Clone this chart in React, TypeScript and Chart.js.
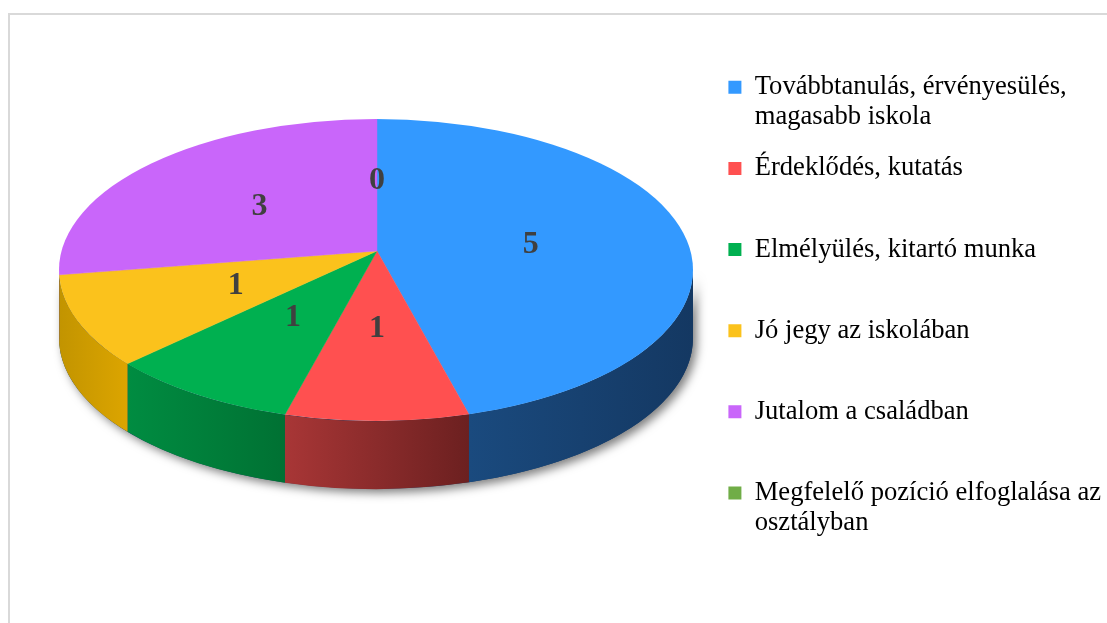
import React, { useEffect, useRef } from 'react';
import { Chart, registerables } from 'chart.js';

Chart.register(...registerables);

// ---------- data ----------
const categories: string[] = [
  'Továbbtanulás, érvényesülés, magasabb iskola',
  'Érdeklődés, kutatás',
  'Elmélyülés, kitartó munka',
  'Jó jegy az iskolában',
  'Jutalom a családban',
  'Megfelelő pozíció elfoglalása az osztályban',
];
const values: number[] = [5, 1, 1, 1, 3, 0];
const legendLines: string[][] = [
  ['Továbbtanulás, érvényesülés,', 'magasabb iskola'],
  ['Érdeklődés, kutatás', ''],
  ['Elmélyülés, kitartó munka', ''],
  ['Jó jegy az iskolában', ''],
  ['Jutalom a családban', ''],
  ['Megfelelő pozíció elfoglalása az', 'osztályban'],
];

// ---------- styles ----------
const topColors = ['#3399FF', '#FF5050', '#00B050', '#FBC21C', '#C966FA', '#70AD47'];
const sideColors: [string, string][] = [
  ['#1A4A7E', '#143862'],
  ['#A83636', '#6C2020'],
  ['#008C41', '#007133'],
  ['#C29400', '#DCA500'],
  ['#9C50C6', '#8A44B0'],
  ['#55883A', '#4A7832'],
];
const SERIF = '"Liberation Serif", "Times New Roman", serif';

// geometry of the drawn (tilted) pie in screen pixels
const OUT = { cx: 376, cy: 270, rx: 317, ry: 151 };
const APEX = { x: 377, y: 251 };
const ARC_R = { x: 345, y: 180 };
const DEPTH = 68;
const LABEL_F = 0.49;
const LABEL_DY = 4;

function thetaFor(a: number): number {
  const dx = ARC_R.x * Math.cos(a);
  const dy = ARC_R.y * Math.sin(a);
  const u0 = (APEX.x - OUT.cx) / OUT.rx;
  const v0 = (APEX.y - OUT.cy) / OUT.ry;
  const du = dx / OUT.rx;
  const dv = dy / OUT.ry;
  const A = du * du + dv * dv;
  const B = 2 * (u0 * du + v0 * dv);
  const C = u0 * u0 + v0 * v0 - 1;
  const t = (-B + Math.sqrt(B * B - 4 * A * C)) / (2 * A);
  return Math.atan2(v0 + t * dv, u0 + t * du);
}

const pie3d = {
  id: 'pie3d',
  beforeDraw(chart: any) {
    const ctx = chart.ctx;
    ctx.save();
    ctx.strokeStyle = '#D9D9D9';
    ctx.lineWidth = 2;
    ctx.beginPath();
    ctx.moveTo(9, chart.height + 5);
    ctx.lineTo(9, 14);
    ctx.lineTo(chart.width + 5, 14);
    ctx.stroke();
    ctx.restore();
  },
  beforeDatasetsDraw(chart: any) {
    const ctx = chart.ctx;
    const meta = chart.getDatasetMeta(0);
    const arcs = meta.data;
    ctx.save();
    if (arcs.length) {
      // shadow under the visible side
      ctx.save();
      ctx.shadowColor = 'rgba(0,0,0,0.5)';
      ctx.shadowBlur = 10;
      ctx.shadowOffsetX = 4;
      ctx.shadowOffsetY = 4;
      ctx.fillStyle = '#1A3F6A';
      ctx.beginPath();
      ctx.ellipse(OUT.cx, OUT.cy, OUT.rx, OUT.ry, 0, 0, Math.PI, false);
      ctx.ellipse(OUT.cx, OUT.cy + DEPTH, OUT.rx, OUT.ry, 0, Math.PI, 0, true);
      ctx.closePath();
      ctx.fill();
      ctx.restore();

      arcs.forEach((arc: any, i: number) => {
        const p = arc.getProps(['startAngle', 'endAngle'], true);
        if (p.endAngle - p.startAngle < 1e-6) return;
        let ts = thetaFor(p.startAngle);
        let te = thetaFor(p.endAngle);
        while (te <= ts) te += Math.PI * 2;
        const windows = [[0, Math.PI], [2 * Math.PI, 3 * Math.PI], [-2 * Math.PI, -Math.PI]];
        windows.forEach(([w0, w1]) => {
          const lo = Math.max(ts, w0);
          const hi = Math.min(te, w1);
          if (hi - lo <= 1e-4) return;
          const x0 = OUT.cx + OUT.rx * Math.cos(lo);
          const x1 = OUT.cx + OUT.rx * Math.cos(hi);
          const g = ctx.createLinearGradient(Math.min(x0, x1), 0, Math.max(x0, x1), 0);
          const cols = sideColors[i % sideColors.length];
          g.addColorStop(0, cols[0]);
          g.addColorStop(1, cols[1]);
          ctx.fillStyle = g;
          ctx.beginPath();
          ctx.ellipse(OUT.cx, OUT.cy, OUT.rx, OUT.ry, 0, lo, hi, false);
          ctx.ellipse(OUT.cx, OUT.cy + DEPTH, OUT.rx, OUT.ry, 0, hi, lo, true);
          ctx.closePath();
          ctx.fill();
        });
      });

      // transform for top faces
      const a0 = arcs[0].getProps(['x', 'y', 'outerRadius'], true);
      ctx.beginPath();
      ctx.ellipse(OUT.cx, OUT.cy, OUT.rx, OUT.ry, 0, 0, Math.PI * 2);
      ctx.clip();
      ctx.translate(APEX.x, APEX.y);
      ctx.scale(ARC_R.x / a0.outerRadius, ARC_R.y / a0.outerRadius);
      ctx.translate(-a0.x, -a0.y);
    }
  },
  afterDatasetsDraw(chart: any) {
    const ctx = chart.ctx;
    ctx.restore();
    const meta = chart.getDatasetMeta(0);
    const data = chart.data.datasets[0].data;
    ctx.save();
    ctx.font = 'bold 32px ' + SERIF;
    ctx.fillStyle = '#404040';
    ctx.textAlign = 'center';
    ctx.textBaseline = 'middle';
    meta.data.forEach((arc: any, i: number) => {
      const p = arc.getProps(['startAngle', 'endAngle'], true);
      const mid = (p.startAngle + p.endAngle) / 2;
      const x = APEX.x + LABEL_F * OUT.rx * Math.cos(mid);
      const y = APEX.y + LABEL_DY + LABEL_F * OUT.ry * Math.sin(mid);
      ctx.fillText(String(data[i]), x, y);
    });
    ctx.restore();
  },
};

export default function App() {
  const ref = useRef<HTMLCanvasElement | null>(null);
  useEffect(() => {
    document.body.style.margin = '0';
    const canvas = ref.current;
    if (!canvas) return;
    const chart = new Chart(canvas, {
      type: 'pie',
      data: {
        labels: categories,
        datasets: [
          {
            data: values,
            backgroundColor: topColors,
            borderColor: topColors,
            borderWidth: 0.5,
            clip: false as any,
          },
        ],
      },
      options: {
        responsive: false,
        animation: false,
        events: [],
        layout: { padding: { top: 53, right: -4, bottom: 0, left: 0 } },
        plugins: {
          tooltip: { enabled: false },
          legend: {
            position: 'right',
            align: 'start',
            labels: {
              boxWidth: 13,
              boxHeight: 13,
              padding: 21,
              color: '#000000',
              font: { family: SERIF, size: 26.6, lineHeight: 1.13 },
              generateLabels: () =>
                categories.map((c, i) => ({
                  text: legendLines[i] as any,
                  fillStyle: topColors[i],
                  strokeStyle: topColors[i],
                  lineWidth: 0,
                  hidden: false,
                  index: i,
                  fontColor: '#000000',
                })),
            },
          },
        },
      },
      plugins: [pie3d],
    });
    return () => chart.destroy();
  }, []);
  return (
    <div style={{ width: 1107, height: 623, position: 'relative' }}>
      <canvas ref={ref} width={1107} height={623} style={{ display: 'block' }} />
    </div>
  );
}
